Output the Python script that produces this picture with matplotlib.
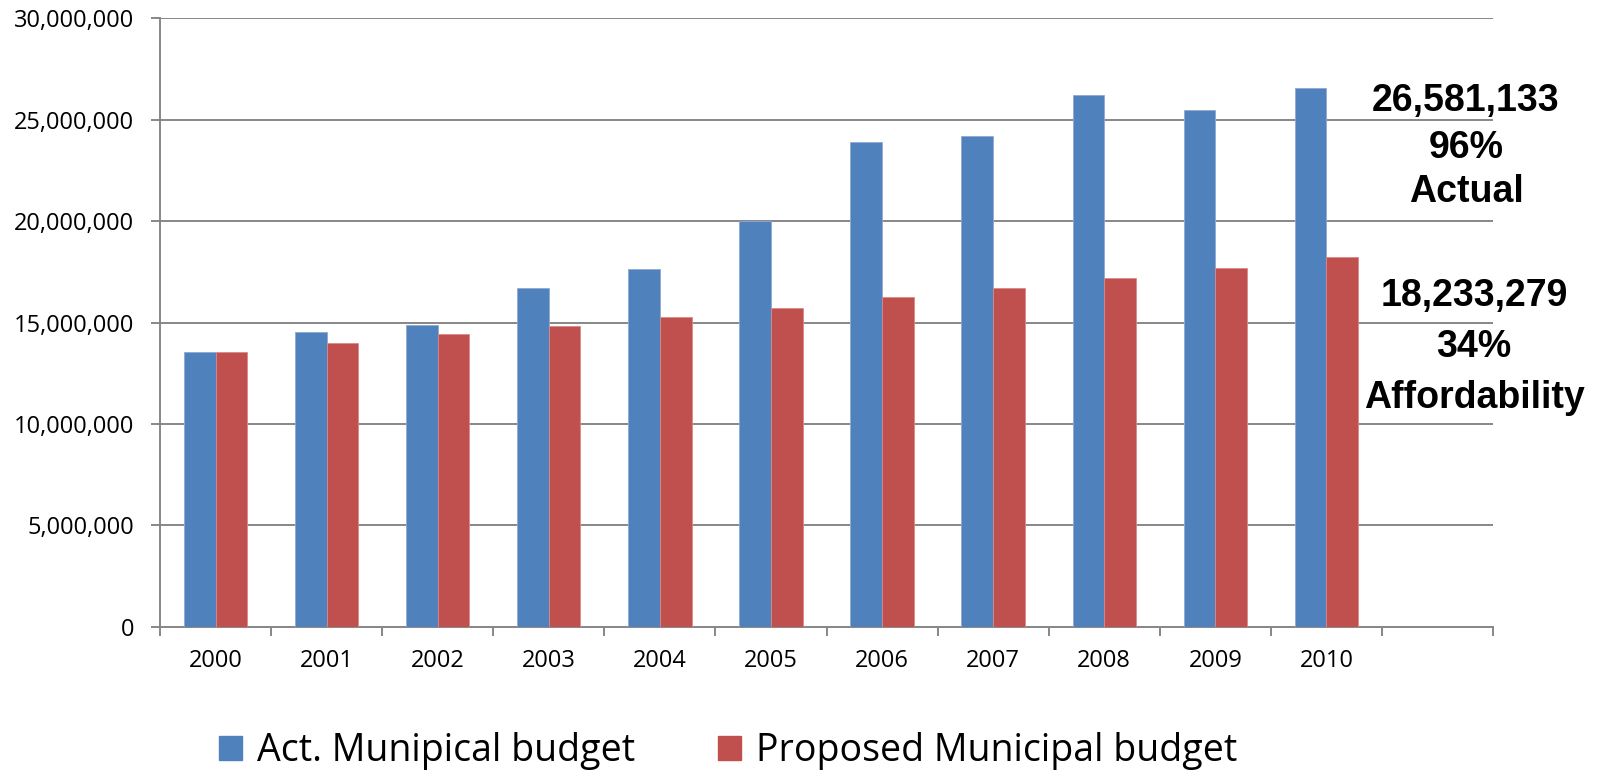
import matplotlib.pyplot as plt
from matplotlib.ticker import FuncFormatter, FixedLocator
from matplotlib.patches import Patch
import numpy as np

# yearly budgets (the last slot on the axis is left empty)
years = ['2000', '2001', '2002', '2003', '2004', '2005',
         '2006', '2007', '2008', '2009', '2010']
actual = [13560000, 14520000, 14880000, 16690000, 17650000, 20020000,
          23900000, 24200000, 26220000, 25460000, 26581133]
proposed = [13560000, 13970000, 14420000, 14830000, 15280000, 15730000,
            16240000, 16690000, 17200000, 17690000, 18233279]

blue = '#4F81BD'
red = '#C0504D'
grey = '#878787'

plt.rcParams['font.family'] = ['Open Sans', 'DejaVu Sans']

fig = plt.figure(figsize=(16.03, 7.74), dpi=100)
ax = fig.add_axes([0.0998, 0.1902, 0.8316, 0.7862])

n_slots = len(years) + 1
x = np.arange(len(years)) + 0.5
w = 0.285
ax.bar(x - w / 2, actual, w, color=blue, edgecolor='#8FA9D3', linewidth=0.6, zorder=3)
ax.bar(x + w / 2, proposed, w, color=red, edgecolor='#D98A88', linewidth=0.6, zorder=3)

ax.set_xlim(0, n_slots)
ax.set_ylim(0, 30000000)
ax.set_yticks(np.arange(0, 30000001, 5000000))
ax.yaxis.set_major_formatter(FuncFormatter(lambda v, p: f'{int(v):,}'))
ax.grid(axis='y', color=grey, linewidth=1.4, zorder=0)

# category boundaries carry the tick marks, labels sit in the middle
ax.xaxis.set_major_locator(FixedLocator(np.arange(n_slots + 1)))
ax.xaxis.set_minor_locator(FixedLocator(x))
ax.set_xticklabels([], minor=False)
ax.set_xticklabels(years, minor=True)
ax.tick_params(axis='x', which='major', length=6.5, width=1.4, color=grey, direction='out')
ax.tick_params(axis='x', which='minor', length=0, pad=16, labelsize=17)
ax.tick_params(axis='y', length=6.5, width=1.4, color=grey, pad=12, labelsize=17)

for side in ['top', 'right']:
    ax.spines[side].set_visible(False)
for side in ['left', 'bottom']:
    ax.spines[side].set_color(grey)
    ax.spines[side].set_linewidth(1.4)

# summary notes for the last year
note_kw = dict(ha='center', va='center', fontsize=27, fontweight='bold',
               family=['Liberation Sans', 'DejaVu Sans'])
fig.text(1466 / 1603, 1 - 101 / 774, f'{actual[-1]:,}', **note_kw)
fig.text(1466 / 1603, 1 - 148 / 774, '96%', **note_kw)
fig.text(1466 / 1603, 1 - 192 / 774, 'Actual', **note_kw)
fig.text(1474 / 1603, 1 - 296 / 774, f'{proposed[-1]:,}', **note_kw)
fig.text(1474 / 1603, 1 - 347 / 774, '34%', **note_kw)
fig.text(1474 / 1603, 1 - 398 / 774, 'Affordability', **note_kw)

handles = [Patch(color=blue), Patch(color=red)]
fig.legend(handles, ['Act. Munipical budget', 'Proposed Municipal budget'],
           loc='center', bbox_to_anchor=(728 / 1603, 1 - 751 / 774), ncol=2,
           frameon=False, fontsize=27, handlelength=0.62, handleheight=0.62,
           handletextpad=0.4, columnspacing=2.2)

fig.savefig('out.png', dpi=100)
